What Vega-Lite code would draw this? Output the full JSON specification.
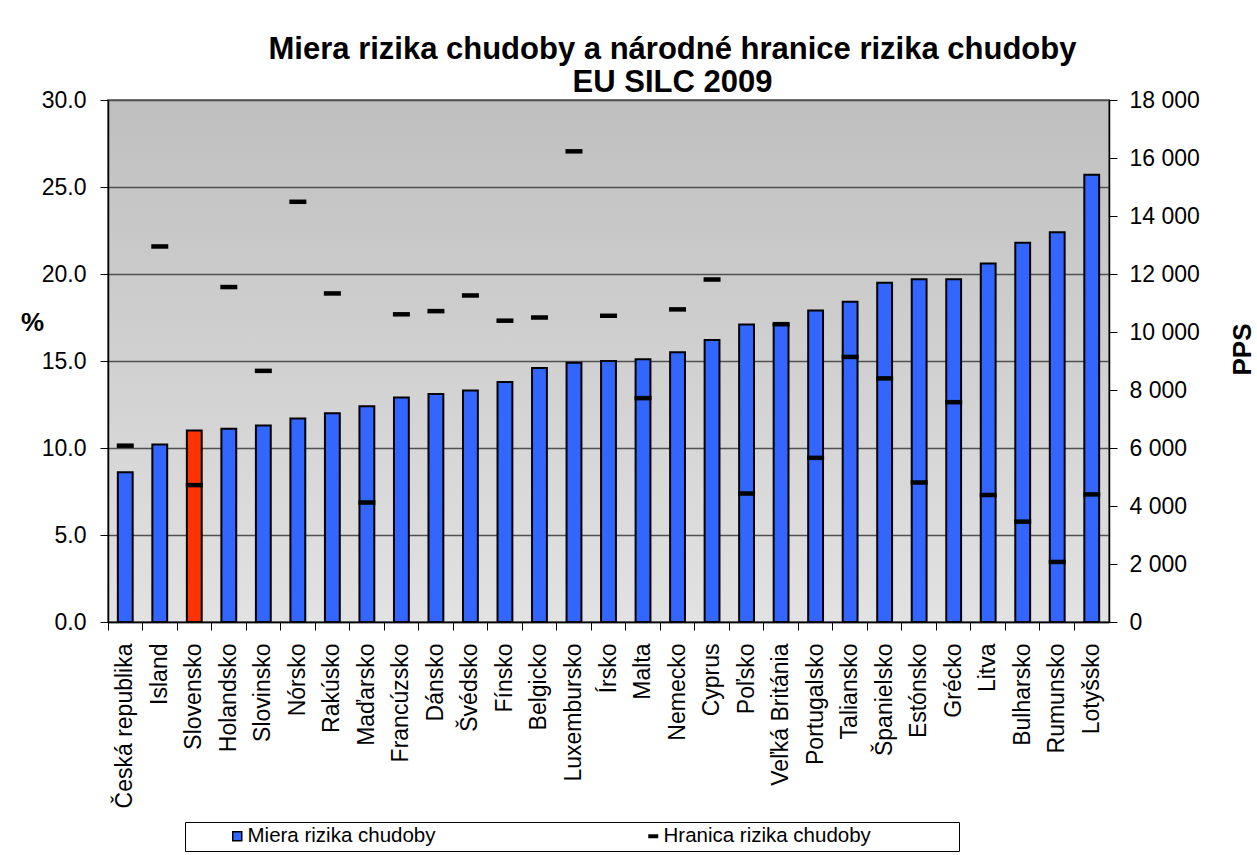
{
  "$schema": "https://vega.github.io/schema/vega-lite/v6.json",
  "width": 1001,
  "height": 522,
  "autosize": {"type": "none"},
  "padding": {"left": 108, "top": 100, "right": 148, "bottom": 233},
  "background": "white",
  "title": {
    "text": ["Miera rizika chudoby a národné hranice rizika chudoby", "EU SILC 2009"],
    "font": "Liberation Sans",
    "fontSize": 31,
    "fontWeight": "bold",
    "color": "black",
    "anchor": "middle",
    "dx": 64,
    "offset": -10,
    "lineHeight": 33
  },
  "config": {
    "font": "Liberation Sans",
    "view": {
      "fill": {"gradient": "linear", "x1": 0, "y1": 0, "x2": 0, "y2": 1, "stops": [{"offset": 0, "color": "#bfbfbf"}, {"offset": 1, "color": "#e2e2e2"}]},
      "stroke": "#808080",
      "strokeWidth": 2
    },
    "axis": {
      "labelFont": "Liberation Sans",
      "labelColor": "black",
      "titleColor": "black",
      "domainColor": "black",
      "tickColor": "black",
      "domainWidth": 1.5,
      "tickWidth": 1
    },
    "legend": {
      "orient": "none",
      "direction": "horizontal",
      "labelFontSize": 20.5,
      "labelColor": "black",
      "labelOffset": 0,
      "labelLimit": 400
    }
  },
  "data": {
    "values": [
      {"country": "Česká republika", "rate": 8.6, "line": 6080},
      {"country": "Island", "rate": 10.2, "line": 12950},
      {"country": "Slovensko", "rate": 11.0, "line": 4720},
      {"country": "Holandsko", "rate": 11.1, "line": 11550},
      {"country": "Slovinsko", "rate": 11.3, "line": 8660},
      {"country": "Nórsko", "rate": 11.7, "line": 14490},
      {"country": "Rakúsko", "rate": 12.0, "line": 11330},
      {"country": "Maďarsko", "rate": 12.4, "line": 4120},
      {"country": "Francúzsko", "rate": 12.9, "line": 10610},
      {"country": "Dánsko", "rate": 13.1, "line": 10720},
      {"country": "Švédsko", "rate": 13.3, "line": 11260},
      {"country": "Fínsko", "rate": 13.8, "line": 10390},
      {"country": "Belgicko", "rate": 14.6, "line": 10500},
      {"country": "Luxembursko", "rate": 14.9, "line": 16230},
      {"country": "Írsko", "rate": 15.0, "line": 10560},
      {"country": "Malta", "rate": 15.1, "line": 7720},
      {"country": "Nemecko", "rate": 15.5, "line": 10780},
      {"country": "Cyprus", "rate": 16.2, "line": 11810},
      {"country": "Poľsko", "rate": 17.1, "line": 4430},
      {"country": "Veľká Británia", "rate": 17.1, "line": 10270},
      {"country": "Portugalsko", "rate": 17.9, "line": 5660},
      {"country": "Taliansko", "rate": 18.4, "line": 9140},
      {"country": "Španielsko", "rate": 19.5, "line": 8400},
      {"country": "Estónsko", "rate": 19.7, "line": 4810},
      {"country": "Grécko", "rate": 19.7, "line": 7580},
      {"country": "Litva", "rate": 20.6, "line": 4380},
      {"country": "Bulharsko", "rate": 21.8, "line": 3460},
      {"country": "Rumunsko", "rate": 22.4, "line": 2070},
      {"country": "Lotyšsko", "rate": 25.7, "line": 4400}
    ]
  },
  "encoding": {
    "x": {
      "field": "country",
      "type": "nominal",
      "sort": null,
      "scale": {"paddingInner": 0, "paddingOuter": 0},
      "axis": {
        "title": null,
        "labelAngle": -90,
        "labelFontSize": 23,
        "labelPadding": 13,
        "tickSize": 8,
        "bandPosition": 0,
        "domainWidth": 1.5
      }
    }
  },
  "layer": [
    {
      "mark": {"type": "bar", "width": {"band": 0.43}, "stroke": "black", "strokeWidth": 2},
      "encoding": {
        "y": {
          "field": "rate",
          "type": "quantitative",
          "scale": {"domain": [0, 30], "nice": false},
          "axis": {
            "title": "%",
            "titleAngle": 0,
            "titleX": -76,
            "titleY": 222,
            "titleAlign": "center",
            "titleBaseline": "middle",
            "titleFontSize": 26,
            "titleFontWeight": "bold",
            "values": [0, 5, 10, 15, 20, 25, 30],
            "format": ".1f",
            "labelFontSize": 23,
            "labelPadding": 14,
            "tickSize": 8,
            "grid": true,
            "gridColor": "#505050",
            "gridWidth": 1.3
          }
        },
        "fill": {
          "datum": "Miera rizika chudoby",
          "condition": {"test": "datum.country === 'Slovensko'", "value": "#ff3300"},
          "scale": {"domain": ["Miera rizika chudoby"], "range": ["#3366ff"]},
          "legend": {
            "title": "\u00a0",
            "titleOrient": "right",
            "titlePadding": 520,
            "titleFontSize": 8,
            "titleColor": "white",
            "legendX": 77,
            "legendY": 722,
            "strokeColor": "black",
            "fillColor": "white",
            "padding": 4,
            "symbolOffset": 38,
            "symbolType": "square",
            "symbolSize": 81,
            "symbolStrokeColor": "black",
            "symbolStrokeWidth": 1.5,
            "zindex": 0
          }
        }
      }
    },
    {
      "mark": {"type": "tick", "size": 17, "thickness": 4.5, "stroke": null, "opacity": 1},
      "encoding": {
        "y": {
          "field": "line",
          "type": "quantitative",
          "scale": {"domain": [0, 18000], "nice": false},
          "axis": {
            "orient": "right",
            "title": "PPS",
            "titleAngle": 270,
            "titleX": 133,
            "titleY": 249,
            "titleAlign": "center",
            "titleBaseline": "middle",
            "titleFontSize": 26,
            "titleFontWeight": "bold",
            "values": [0, 2000, 4000, 6000, 8000, 10000, 12000, 14000, 16000, 18000],
            "labelExpr": "replace(format(datum.value, ','), ',', ' ')",
            "labelFontSize": 23,
            "labelPadding": 12,
            "tickSize": 8,
            "grid": false
          }
        },
        "fill": {
          "datum": "Hranica rizika chudoby",
          "scale": {"domain": ["Hranica rizika chudoby"], "range": ["#000000"]},
          "legend": {
            "title": null,
            "legendX": 535,
            "legendY": 726,
            "padding": 0,
            "symbolType": "M-1,-0.4H1V0.4H-1Z",
            "symbolSize": 100,
            "symbolStrokeWidth": 0,
            "zindex": 1
          }
        }
      }
    }
  ],
  "resolve": {"scale": {"y": "independent", "fill": "independent"}}
}
